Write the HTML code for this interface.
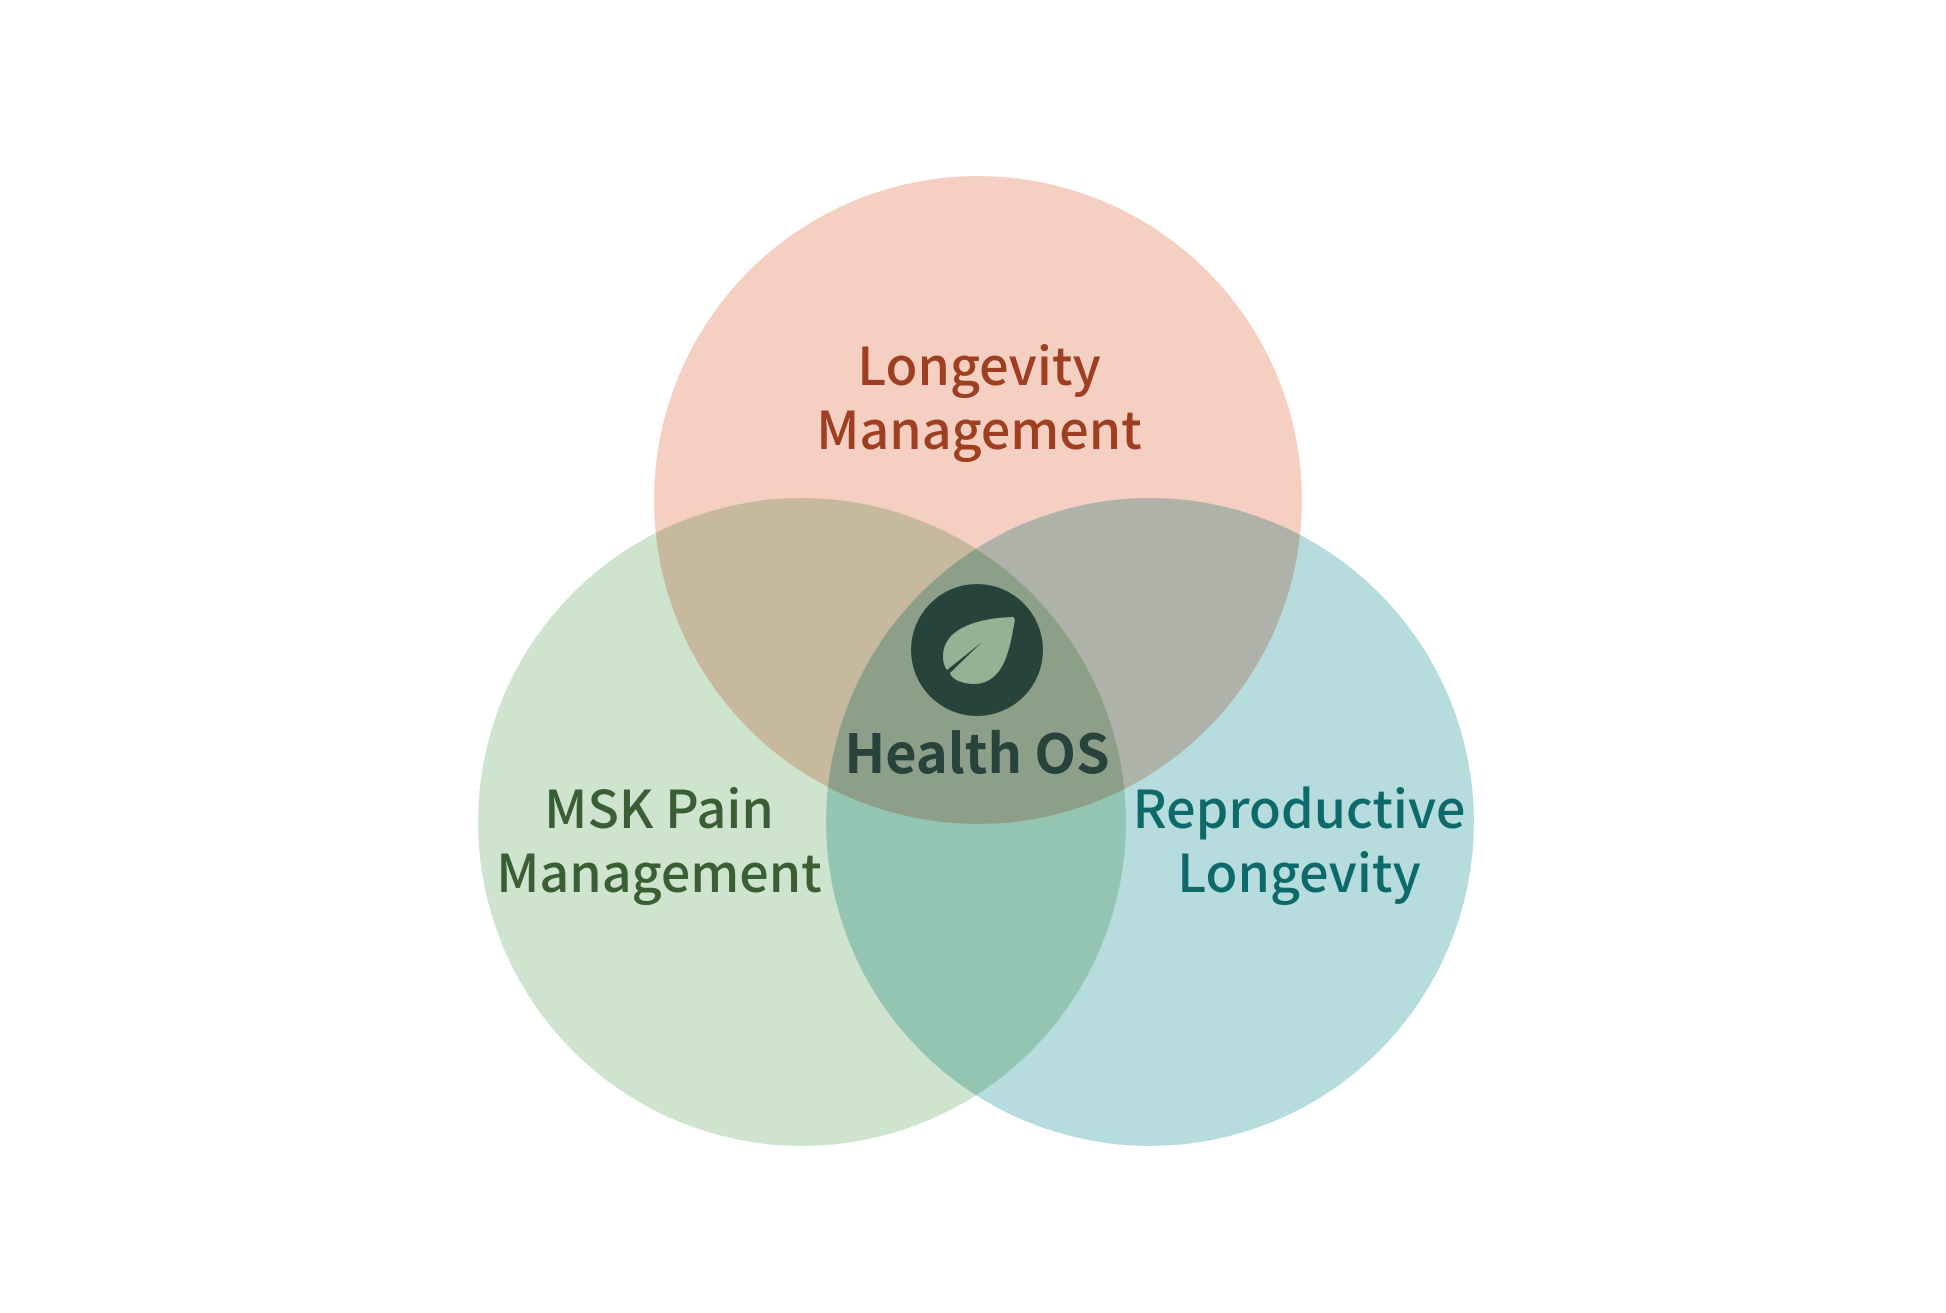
<!DOCTYPE html>
<html><head><meta charset="utf-8"><style>
html,body{margin:0;padding:0;background:#fff;}
svg{display:block;}
text{font-family:"Noto Sans CJK SC","Liberation Sans",sans-serif;text-anchor:middle;}
</style></head><body>
<svg width="1946" height="1313" viewBox="0 0 1946 1313">
<rect width="1946" height="1313" fill="#fff"/>
<g style="isolation:isolate">
<circle cx="978" cy="500" r="324" fill="#f4cfc2" style="mix-blend-mode:multiply"/>
<circle cx="802" cy="822" r="324" fill="#cfe4ce" style="mix-blend-mode:multiply"/>
<circle cx="1150" cy="822" r="324" fill="#b6dcdd" style="mix-blend-mode:multiply"/>
</g>
<text x="979" y="385" font-size="52" fill="#9f3f22" font-weight="500">Longevity</text>
<text x="979" y="449" font-size="52" fill="#9f3f22" font-weight="500">Management</text>
<text x="659" y="828" font-size="52" fill="#3a5f35" font-weight="500">MSK Pain</text>
<text x="659" y="892" font-size="52" fill="#3a5f35" font-weight="500">Management</text>
<text x="1299" y="828" font-size="52" fill="#0e6a6a" font-weight="500">Reproductive</text>
<text x="1299" y="892" font-size="52" fill="#0e6a6a" font-weight="500">Longevity</text>
<circle cx="977" cy="650" r="66" fill="#27433c"/>
<path d="M1012 617 C990 618 965 622 951 636 C940 648 942 664 947 670 L982 642 L950 673 C952 682 972 686 982 683 C1000 678 1008 660 1013 630 C1015 621 1016 617 1012 617 Z" fill="#93b394"/>
<text x="977" y="773" font-size="54" fill="#27433c" font-weight="bold">Health OS</text>
</svg>
</body></html>
